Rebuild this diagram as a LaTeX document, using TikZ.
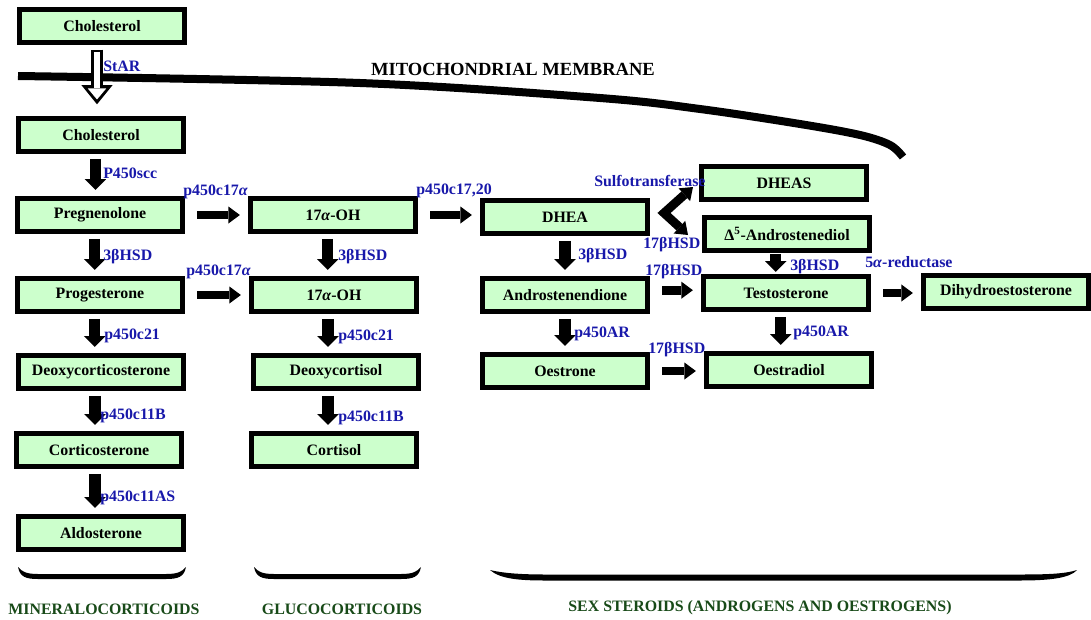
\documentclass[tikz,border=0pt]{standalone}
\usepackage{fontspec}
\setmainfont{Liberation Serif}
\usetikzlibrary{positioning,arrows.meta,calc}

\definecolor{metabgreen}{RGB}{204,255,204}
\definecolor{enzblue}{RGB}{24,24,170}
\definecolor{classgreen}{RGB}{24,74,24}

\tikzset{
  metab/.style={draw=black, line width=0.13cm, fill=metabgreen, minimum width=4.125cm,
    minimum height=0.825cm, inner sep=0pt, font=\bfseries\fontsize{11.3}{13.6}\selectfont},
  enzyme/.style={anchor=west, inner sep=0pt, text=enzblue, font=\bfseries\fontsize{11.3}{13.6}\selectfont},
  classlabel/.style={inner sep=0pt, text=classgreen, font=\bfseries\fontsize{11.3}{13.6}\selectfont},
  >={Triangle[width=0.43cm,length=0.29cm,line width=0pt]},
  hconv/.style={line width=0.22cm, ->, shorten <=0.3cm, shorten >=0.2cm},
  vconv/.style={line width=0.28cm, -{Triangle[width=0.54cm,length=0.27cm,line width=0pt]},
    shorten <=0.12cm, shorten >=0.15cm},
  membrane/.style={line width=0.2cm},
}

\begin{document}
\begin{tikzpicture}[x=0.025cm, y=-0.025cm]
  \useasboundingbox (0,0) rectangle (1091,619);

  % mitochondrial membrane
  \draw[membrane] plot[smooth, tension=0.55] coordinates
    {(18,76) (360,83) (600,98) (700,109) (800,124) (860,135) (890,145) (903,157)};
  \node[font=\bfseries\fontsize{13.2}{15}\selectfont, inner sep=0pt] (title) at (513,69) {MITOCHONDRIAL MEMBRANE};

  % metabolites
  \node[metab] (chol1) at (102,26) {Cholesterol};
  \node[metab] (chol2) at (101,135) {Cholesterol};
  \node[metab] (preg) at (100,215) {Pregnenolone};
  \node[metab] (prog) at (100,295) {Progesterone};
  \node[metab] (doc) at (101,372) {Deoxycorticosterone};
  \node[metab] (cortico) at (99,450) {Corticosterone};
  \node[metab] (aldo) at (101,533) {Aldosterone};
  \node[metab] (ohA) at (333,215) {17\textit{α}-OH};
  \node[metab] (ohB) at (334,295) {17\textit{α}-OH};
  \node[metab] (docl) at (336,372) {Deoxycortisol};
  \node[metab] (cortisol) at (334,450) {Cortisol};
  \node[metab] (dhea) at (565,217) {DHEA};
  \node[metab] (andro) at (565,295) {Androstenendione};
  \node[metab] (oestrone) at (565,371) {Oestrone};
  \node[metab] (dheas) at (784,183) {DHEAS};
  \node[metab] (diol) at (787,234) {Δ\textsuperscript{5}-Androstenediol};
  \node[metab] (testo) at (786,293) {Testosterone};
  \node[metab] (oestradiol) at (789,370) {Oestradiol};
  \node[metab] (dht) at (1006,292) {Dihydroestosterone};

  % StAR transport (hollow arrow)
  \draw[line width=0.275cm, -{Triangle[width=0.78cm,length=0.48cm,line width=0pt]},
    shorten <=0.11cm, shorten >=0.29cm] ([xshift=-0.125cm]chol1.south) -- ([xshift=-0.125cm]chol1.south |- chol2.north);
  \draw[white, line width=0.125cm, -{Triangle[width=0.46cm,length=0.275cm,line width=0pt]},
    shorten <=0.16cm, shorten >=0.41cm] ([xshift=-0.125cm]chol1.south) -- ([xshift=-0.125cm]chol1.south |- chol2.north);

  % vertical conversions
  \draw[vconv] ([xshift=-0.14cm]chol2.south) -- ([xshift=-0.14cm]chol2.south |- preg.north);
  \draw[vconv] ([xshift=-0.13cm]preg.south) -- ([xshift=-0.13cm]preg.south |- prog.north);
  \draw[vconv] ([xshift=-0.13cm]prog.south) -- ([xshift=-0.13cm]prog.south |- doc.north);
  \draw[vconv] ([xshift=-0.15cm]doc.south) -- ([xshift=-0.15cm]doc.south |- cortico.north);
  \draw[vconv] ([xshift=-0.1cm]cortico.south) -- ([xshift=-0.1cm]cortico.south |- aldo.north);
  \draw[vconv] ([xshift=-0.13cm]ohA.south) -- ([xshift=-0.13cm]ohA.south |- ohB.north);
  \draw[vconv] ([xshift=-0.15cm]ohB.south) -- ([xshift=-0.15cm]ohB.south |- docl.north);
  \draw[vconv] ([xshift=-0.2cm]docl.south) -- ([xshift=-0.2cm]docl.south |- cortisol.north);
  \draw[vconv] (dhea.south) -- (dhea.south |- andro.north);
  \draw[vconv] (andro.south) -- (andro.south |- oestrone.north);
  \draw[vconv, shorten <=0.03cm, shorten >=0.05cm] ([xshift=-0.28cm]diol.south) -- ([xshift=-0.28cm]diol.south |- testo.north);
  \draw[vconv] ([xshift=-0.13cm]testo.south) -- ([xshift=-0.13cm]testo.south |- oestradiol.north);

  % horizontal conversions
  \draw[hconv] (preg.east) -- (preg.east -| ohA.west);
  \draw[hconv] (prog.east) -- (prog.east -| ohB.west);
  \draw[hconv] (ohA.east) -- (ohA.east -| dhea.west);
  \draw[hconv] ([yshift=0.12cm]andro.east) -- ([yshift=0.12cm]andro.east -| testo.west);
  \draw[hconv] (oestrone.east) -- (oestrone.east -| oestradiol.west);
  \draw[hconv] (testo.east) -- (testo.east -| dht.west);

  % DHEA fork
  \coordinate (fork) at (664,213);
  \coordinate (sulfotip) at (693,187);
  \coordinate (dioltip) at (688,235);
  \draw[hconv, <->, line join=miter, shorten <=0pt, shorten >=0pt] (sulfotip) -- (fork) -- (dioltip);

  % enzymes
  \node[enzyme] (star) at (103,66) {StAR};
  \node[enzyme] (scc) at (103,173) {P450scc};
  \node[enzyme] (c17a) at (183,192) {p450c17\textit{α}};
  \node[enzyme] (c17b) at (186,272) {p450c17\textit{α}};
  \node[enzyme] (lyase) at (416,191) {p450c17,20};
  \node[enzyme] (hsdA) at (103,257) {3βHSD};
  \node[enzyme] (hsdB) at (338,257) {3βHSD};
  \node[enzyme] (hsdC) at (578,256) {3βHSD};
  \node[enzyme] (hsdD) at (790,267) {3βHSD};
  \node[enzyme] (c21A) at (104,336) {p450c21};
  \node[enzyme] (c21B) at (338,337) {p450c21};
  \node[enzyme] (c11A) at (100,416) {p450c11B};
  \node[enzyme] (c11B) at (338,418) {p450c11B};
  \node[enzyme] (c11as) at (100,498) {p450c11AS};
  \node[enzyme] (sulfo) at (594,181) {Sulfotransferase};
  \node[enzyme] (hsd17A) at (643,245) {17βHSD};
  \node[enzyme] (hsd17B) at (645,272) {17βHSD};
  \node[enzyme] (hsd17C) at (648,350) {17βHSD};
  \node[enzyme] (arA) at (574,334) {p450AR};
  \node[enzyme] (arB) at (793,333) {p450AR};
  \node[enzyme] (red) at (865,262) {5\textit{α}-reductase};

  % class brackets
  \foreach \l/\r in {18/186,254/421} {
    \fill (\l,567) .. controls (\l+2,577) and (\l+8,579) .. (\l+20,579) -- (\r-20,579)
      .. controls (\r-8,579) and (\r-2,577) .. (\r,567)
      .. controls (\r-4,572) and (\r-9,574) .. (\r-20,574) -- (\l+20,574)
      .. controls (\l+9,574) and (\l+4,572) .. (\l,567) -- cycle;
  }
  \fill (490,570) .. controls (500,579) and (520,580.5) .. (545,580.5) -- (1020,580.5)
    .. controls (1050,580.5) and (1070,578) .. (1077,570)
    .. controls (1065,574) and (1045,574.5) .. (1020,574.5) -- (545,574.5)
    .. controls (520,574.5) and (502,573) .. (490,570) -- cycle;

  \node[classlabel] (mineral) at (104,609) {MINERALOCORTICOIDS};
  \node[classlabel] (gluco) at (342,609) {GLUCOCORTICOIDS};
  \node[classlabel] (sex) at (760,608) {SEX STEROIDS (ANDROGENS AND OESTROGENS)};
\end{tikzpicture}
\end{document}
